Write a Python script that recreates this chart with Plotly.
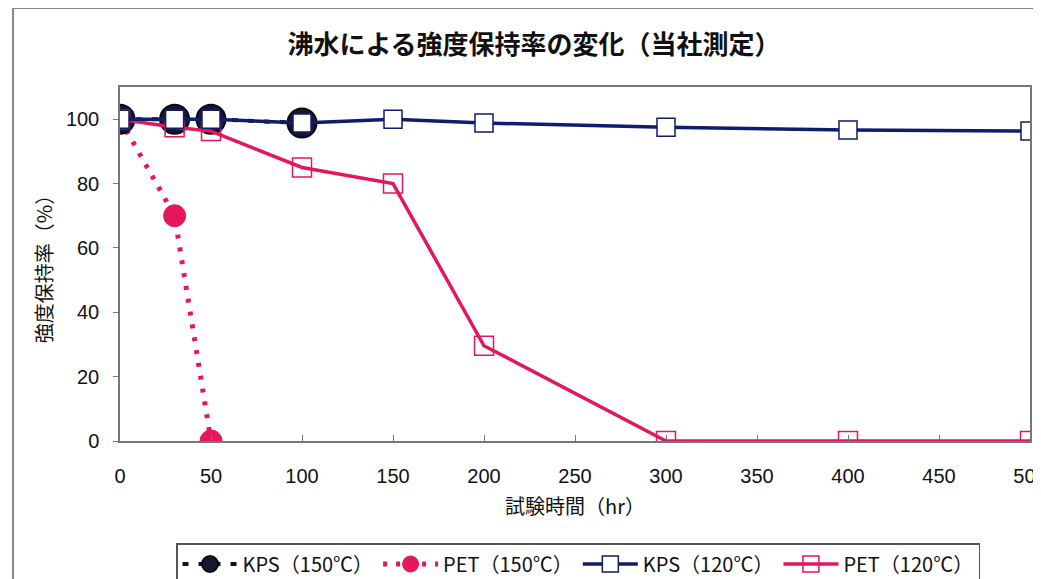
import plotly.graph_objects as go

# 試験時間 (hr)
horas_150 = [0, 30, 50, 100]
horas_pet_150 = [0, 30, 50]
horas_120 = [0, 30, 50, 100, 150, 200, 300, 400, 500]

# 強度保持率 (%)
kps_150 = [100, 100, 100, 98.8]
pet_150 = [100, 70, 0]
kps_120 = [100, 100, 100, 98.8, 100, 98.8, 97.5, 96.6, 96.3]
pet_120 = [100, 97.5, 96.3, 85, 80, 29.6, 0, 0, 0]

azul = '#101c6e'
rojo = '#e5175b'
fuente_jp = 'Noto Sans CJK JP'
fuente_num = 'Liberation Sans'

# la pagina deja 8px de margen en el body, por eso la figura es 8px menor
ancho, alto = 1033, 571

fig = go.Figure()

fig.add_trace(go.Scatter(x=horas_pet_150, y=pet_150, name='PET（150℃）', mode='lines+markers',
                         line=dict(color=rojo, width=5, dash='4px,9px'),
                         marker=dict(symbol='circle', size=22, color=rojo,
                                     line=dict(color=rojo, width=1)),
                         legendrank=2))
fig.add_trace(go.Scatter(x=horas_150, y=kps_150, name='KPS（150℃）', mode='lines+markers',
                         line=dict(color='#111122', width=4, dash='6px,10px'),
                         marker=dict(symbol='circle', size=29, color='#15182e',
                                     line=dict(color='#0a0a14', width=2)),
                         legendrank=1))
fig.add_trace(go.Scatter(x=horas_120, y=pet_120, name='PET（120℃）', mode='lines+markers',
                         line=dict(color=rojo, width=3.5),
                         marker=dict(symbol='square-open', size=19, color=rojo,
                                     line=dict(width=1.5)),
                         legendrank=4))
fig.add_trace(go.Scatter(x=horas_120, y=kps_120, name='KPS（120℃）', mode='lines+markers',
                         line=dict(color=azul, width=3.5),
                         marker=dict(symbol='square', size=18, color='white',
                                     line=dict(color=azul, width=1.5)),
                         legendrank=3))

# marco exterior del grafico
fig.add_shape(type='rect', xref='paper', yref='paper', x0=-0.1176, x1=1.1, y0=-0.5, y1=1.223,
              line=dict(color='#888888', width=2), fillcolor='rgba(0,0,0,0)', layer='below')

fig.update_layout(
    width=ancho, height=alto,
    margin=dict(l=112, r=11, t=79, b=138, autoexpand=False),
    paper_bgcolor='white', plot_bgcolor='white',
    title=dict(text='沸水による強度保持率の変化（当社測定）', x=526 / ancho, xanchor='center', xref='container',
               y=1 - 37 / alto, yanchor='middle', yref='container',
               font=dict(family=fuente_jp, size=26, color='#111', weight='bold')),
    font=dict(family=fuente_num, size=20, color='#111'),
    showlegend=True,
    legend=dict(orientation='h', x=570 / ancho, xanchor='center', xref='container',
                y=1 - 535 / alto, yanchor='top', yref='container',
                bordercolor='#555', borderwidth=1.5, bgcolor='white',
                font=dict(family=fuente_jp, size=20, color='#111'),
                itemwidth=55, tracegroupgap=0),
)

fig.update_xaxes(range=[0, 500], dtick=50, tick0=0, showgrid=False, zeroline=False,
                 showline=True, linecolor='#777', linewidth=1.5, mirror=True,
                 ticks='inside', ticklen=6, tickcolor='#777', automargin=False,
                 ticklabelstandoff=16, ticklabeloverflow='allow',
                 tickfont=dict(family=fuente_num, size=20),
                 title=dict(text='試験時間（hr）', font=dict(family=fuente_jp, size=20), standoff=14))
fig.update_yaxes(range=[0, 110], tickvals=[0, 20, 40, 60, 80, 100], showgrid=False, zeroline=False,
                 showline=True, linecolor='#777', linewidth=1.5, mirror=True,
                 ticks='outside', ticklen=5, tickcolor='#777', automargin=False,
                 ticklabelstandoff=10,
                 tickfont=dict(family=fuente_num, size=20),
                 title=dict(text='強度保持率（%）', font=dict(family=fuente_jp, size=20), standoff=8))

fig.write_html('out.html')
